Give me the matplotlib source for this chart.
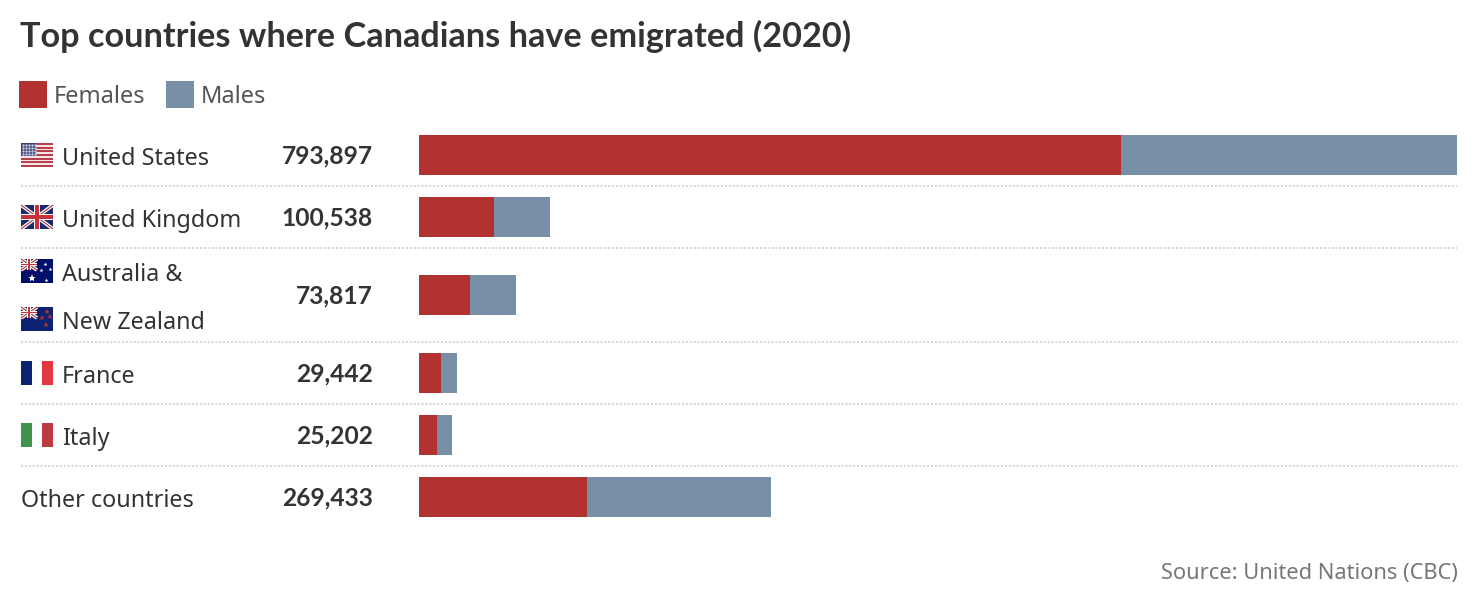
import matplotlib
matplotlib.use("Agg")
import matplotlib.pyplot as plt
from matplotlib.patches import Rectangle

countries = ["United States", "United Kingdom", "Australia &\nNew Zealand", "France", "Italy", "Other countries"]
totals = [793897, 100538, 73817, 29442, 25202, 269433]
females = [536900, 57400, 39000, 16800, 13800, 128500]
males = [t - f for t, f in zip(totals, females)]

RED = "#b23232"
BLUE = "#7890a5"
DARK = "#333333"
GREY = "#555555"
NAVY = "#0a2472"
W, H = 1482, 594
row_y = [155, 217, 295, 373, 435, 497]
sep_y = [186, 248, 342, 404, 466]

plt.rcParams["font.family"] = ["Noto Sans", "DejaVu Sans"]
fig = plt.figure(figsize=(W / 100, H / 100), dpi=100)

# overlay in pixel coords for text, flags and the dotted lines
bg = fig.add_axes([0, 0, 1, 1])
bg.set_xlim(0, W)
bg.set_ylim(H, 0)
bg.axis("off")

# bars get their own x scale, y stays in pixels
ax = fig.add_axes([419 / W, 0, (1457 - 419) / W, 1])
ax.set_xlim(0, max(totals))
ax.set_ylim(H, 0)
ax.axis("off")
ax.barh(row_y, females, height=40, color=RED)
ax.barh(row_y, males, left=females, height=40, color=BLUE)


def box(x, y, w, h, c, z=3):
    bg.add_patch(Rectangle((x, y), w, h, fc=c, ec="none", zorder=z))


def usa(x, y):
    for i in range(7):
        box(x, y + i * 24 / 6.5, 32, 24 / 13, "#b8404a")
        box(x, y + (i + 0.5) * 24 / 6.5, 32, 24 / 13, "#f4e6e6" if i < 6 else "white")
    box(x, y, 15, 13, "#3a3f70", 4)
    for i in range(4):
        for j in range(5):
            bg.plot(x + 1.5 + j * 3, y + 2 + i * 3, ".", ms=1.5, color="#c8cce0", zorder=5)


def jack(x, y, w, h, z=4):
    box(x, y, w, h, "#1a2a6c", z)
    xx, yy = [x, x + w], [y, y + h]
    bg.plot(xx, yy, color="white", lw=2.6, zorder=z, solid_capstyle="butt")
    bg.plot(xx, yy[::-1], color="white", lw=2.6, zorder=z, solid_capstyle="butt")
    bg.plot(xx, yy, color=RED, lw=0.8, zorder=z, solid_capstyle="butt")
    bg.plot(xx, yy[::-1], color=RED, lw=0.8, zorder=z, solid_capstyle="butt")
    box(x + w * 0.4, y, w * 0.2, h, "white", z)
    box(x, y + h * 0.36, w, h * 0.28, "white", z)
    box(x + w * 0.45, y, w * 0.1, h, "#c8303c", z)
    box(x, y + h * 0.41, w, h * 0.18, "#c8303c", z)


def south(x, y, bgc, stars, star_c):
    box(x, y, 32, 24, bgc)
    jack(x, y, 16, 11)
    for sx, sy, ms in stars:
        bg.plot(x + sx, y + sy, "*", ms=ms, color=star_c, mew=0, zorder=5)


def tricolor(x, y, left, right):
    box(x, y, 11, 24, left)
    box(x + 21, y, 11, 24, right)


usa(21, 143)
jack(21, 205, 32, 24)
south(21, 259, "#00106a", [(11, 19, 6), (24, 5, 3), (20, 11, 3), (29, 10, 3), (25, 21, 3)], "white")
south(21, 307, "#0c2272", [(26, 5, 4), (21, 11, 4), (29, 10, 4), (25, 18, 4)], RED)
tricolor(21, 361, NAVY, "#e4373f")
tricolor(21, 423, "#41914f", "#bc3a40")

# Noto Sans has no bold here, so the bold text is Lato
lab_kw = dict(color=DARK, fontsize=16.8, va="center", ha="left")
bg.text(20, 36, "Top countries where Canadians have emigrated (2020)", color=DARK,
        fontsize=24.65, fontweight="bold", family="Lato", va="center")

box(19, 81, 28, 27, RED)
bg.text(54, 97, "Females", color=GREY, fontsize=17, va="center")
box(166, 81, 28, 27, BLUE)
bg.text(201, 97, "Males", color=GREY, fontsize=17, va="center")

label_x = [62, 62, 62, 62, 62, 21]
for i, name in enumerate(countries):
    parts = name.split("\n")
    if len(parts) == 2:
        bg.text(label_x[i], row_y[i] - 20, parts[0], **lab_kw)
        bg.text(label_x[i], row_y[i] + 28, parts[1], **lab_kw)
    else:
        bg.text(label_x[i], row_y[i] + 4, name, **lab_kw)
    bg.text(373, row_y[i] + 1, f"{totals[i]:,}", color=DARK, fontsize=17.7,
            fontweight="bold", family="Lato", ha="right", va="center")

for y in sep_y:
    bg.plot([21, 1457], [y, y], color="#d4d4d4", lw=1.4, ls=(0, (1, 1)), zorder=1)

bg.text(1458, 573, "Source: United Nations (CBC)", color="#777777", fontsize=15.7,
        ha="right", va="center")

fig.savefig("out.png", dpi=100)
